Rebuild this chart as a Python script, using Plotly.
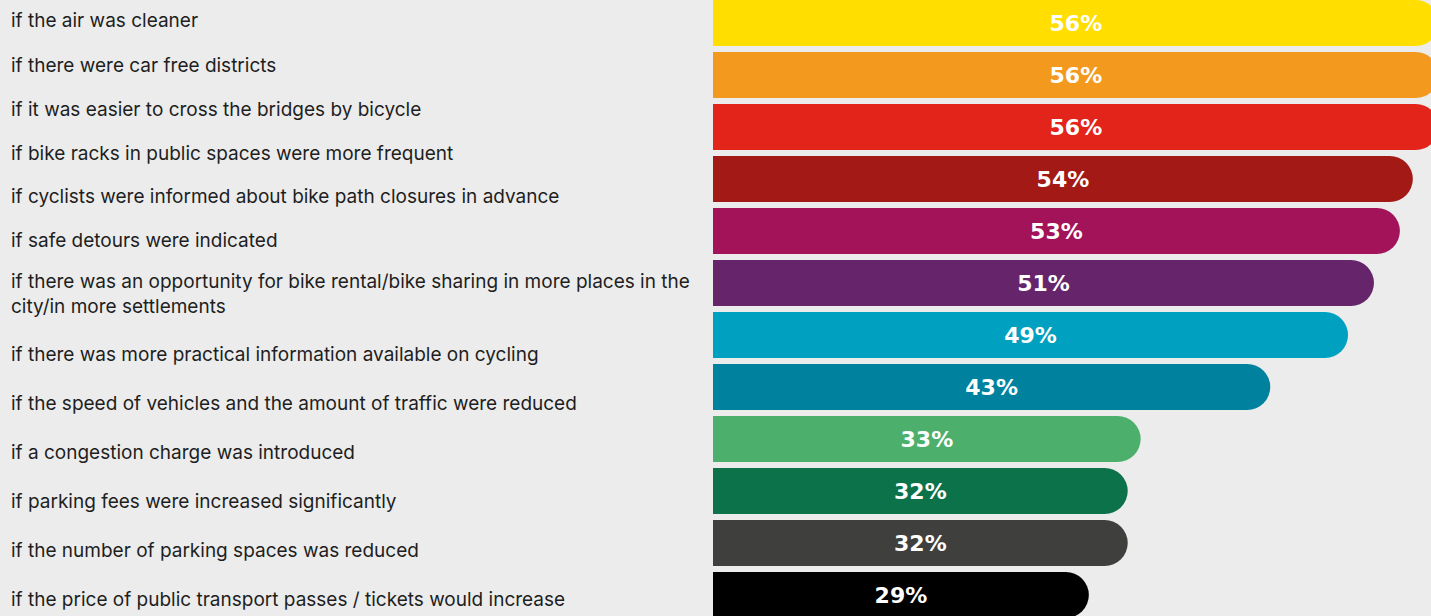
import plotly.graph_objects as go

labels = [
    "if the air was cleaner",
    "if there were car free districts",
    "if it was easier to cross the bridges by bicycle",
    "if bike racks in public spaces were more frequent",
    "if cyclists were informed about bike path closures in advance",
    "if safe detours were indicated",
    "if there was an opportunity for bike rental/bike sharing in more places in the<br>city/in more settlements",
    "if there was more practical information available on cycling",
    "if the speed of vehicles and the amount of traffic were reduced",
    "if a congestion charge was introduced",
    "if parking fees were increased significantly",
    "if the number of parking spaces was reduced",
    "if the price of public transport passes / tickets would increase",
]
label_y_px = [21, 65, 109, 153, 197, 241, 294, 354, 403, 452, 501, 550, 599]

values = [56, 56, 56, 54, 53, 51, 49, 43, 33, 32, 32, 29]
colors = ["#FFDE00", "#F39A1E", "#E3241A", "#A21916", "#A2135A", "#66246B",
          "#00A0C0", "#00829F", "#4CB06C", "#0C724A", "#3F3F3E", "#000000"]

W, H = 1431, 616
BG = "#ECECEC"

fig = go.Figure()
fig.add_trace(go.Bar(
    x=values,
    y=list(range(len(values))),
    orientation="h",
    width=0.885,
    marker=dict(color=colors, cornerradius="50%", line=dict(width=0)),
    text=[f"{v}%" for v in values],
    textposition="inside",
    insidetextanchor="middle",
    constraintext="none",
    textfont=dict(family="DejaVu Sans", size=22, color="white", weight="bold"),
    hoverinfo="skip",
))

for lab, py in zip(labels, label_y_px):
    fig.add_annotation(
        text=lab, xref="paper", yref="paper",
        x=10 / W, y=1 - py / H, xanchor="left", yanchor="middle",
        showarrow=False, align="left", borderpad=0,
        font=dict(family="Inter", size=19, color="#1E1E1E"),
    )

fig.update_layout(
    width=W, height=H,
    margin=dict(l=0, r=0, t=0, b=0),
    paper_bgcolor=BG, plot_bgcolor=BG,
    showlegend=False,
    xaxis=dict(domain=[713 / W, 1], range=[0, 718 / 12.96], visible=False, fixedrange=True),
    yaxis=dict(range=[(H - 23) / 52, -23 / 52], visible=False, fixedrange=True),
)

fig.write_html(
    "out.html",
    config={"displayModeBar": False},
    post_script="document.body.style.margin='0';document.body.style.background='#ECECEC';document.body.style.overflow='hidden';",
)
